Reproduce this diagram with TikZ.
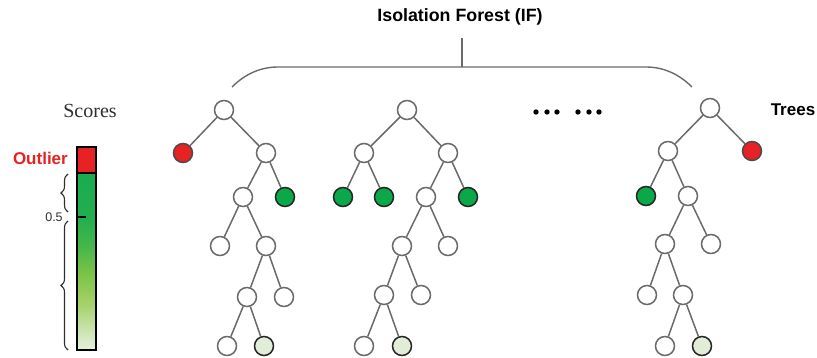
\documentclass[tikz,border=0pt]{standalone}
\usepackage{fontspec}
\setmainfont{Liberation Sans}
\newfontfamily\scorefont{Liberation Serif}
\usepackage{tikz}
\usetikzlibrary{positioning,decorations.pathreplacing}

\definecolor{outred}{HTML}{E62222}
\definecolor{ingreen}{HTML}{0BA84A}
\definecolor{leafgreen}{HTML}{E2EDD8}
\definecolor{edgegray}{HTML}{6A6A6A}
\definecolor{textgray}{HTML}{2E2E2E}
\definecolor{bar0}{HTML}{E6F0DC}
\definecolor{bar1}{HTML}{D4E8BE}
\definecolor{bar2}{HTML}{A8D26E}
\definecolor{bar3}{HTML}{7DC548}
\definecolor{bar4}{HTML}{45B64A}
\definecolor{bar5}{HTML}{22AE4E}
\definecolor{bar6}{HTML}{1AAC50}

\pgfdeclareverticalshading{scorebar}{100bp}{color(0bp)=(bar0); color(25bp)=(bar0);
  color(29bp)=(bar1); color(37.5bp)=(bar2); color(46bp)=(bar3); color(54.5bp)=(bar4);
  color(62.5bp)=(bar5); color(75bp)=(bar6); color(100bp)=(bar6)}

\tikzset{
  vert/.style={circle, draw=edgegray, line width=1.5pt, fill=white,
               minimum size=19pt, inner sep=0pt},
  outl/.style={vert, fill=outred, draw=black!70},
  inl/.style={vert, fill=ingreen, draw=black!85},
  deep/.style={vert, fill=leafgreen, draw=black!85},
  label/.style={font=\bfseries\fontsize{17}{20}\selectfont, inner sep=0pt}
}

\begin{document}
\begin{tikzpicture}[x=1pt,y=-1pt,on grid,
                    every edge/.style={draw=edgegray, line width=1.5pt}]
  \useasboundingbox (0,0) rectangle (817,358);

  % title and forest brace
  \node[label, font=\bfseries\fontsize{17.8}{20}\selectfont] (title) at (460,17) {Isolation Forest (IF)};
  \coordinate (top) at (462,38);
  \coordinate (mid) at (462,67);
  \draw[edgegray, line width=1.4pt] (232,87) .. controls (246,73) and (262,67) .. (278,67)
        -- (646,67) .. controls (662,67) and (678,73) .. (692,87);
  \draw[edgegray, line width=1.4pt] (top) -- (mid);

  % tree 1
  \node[vert] (p0) at (224,110) {};
  \node[outl] (p1) [below left=43pt and 41pt of p0] {};
  \node[vert] (p2) [below right=43pt and 42pt of p0] {};
  \node[vert] (p3) [below left=44pt and 23pt of p2] {};
  \node[inl]  (p4) [below right=44pt and 19pt of p2] {};
  \node[vert] (p5) [below left=49pt and 23pt of p3] {};
  \node[vert] (p6) [below right=49pt and 23pt of p3] {};
  \node[vert] (p7) [below left=51pt and 19pt of p6] {};
  \node[vert] (p8) [below right=51pt and 18pt of p6] {};
  \node[vert] (p9) [below left=49pt and 20pt of p7] {};
  \node[deep] (p10) [below right=49pt and 17pt of p7] {};

  \path (p0) edge (p1) edge (p2)
        (p2) edge (p3) edge (p4)
        (p3) edge (p5) edge (p6)
        (p6) edge (p7) edge (p8)
        (p7) edge (p9) edge (p10);

  % tree 2
  \node[vert] (q0) at (407,110) {};
  \node[vert] (q1) [below left=43pt and 43pt of q0] {};
  \node[vert] (q2) [below right=43pt and 41pt of q0] {};
  \node[inl]  (q3) [below left=44pt and 21pt of q1] {};
  \node[inl]  (q4) [below right=44pt and 20pt of q1] {};
  \node[vert] (q5) [below left=44pt and 22pt of q2] {};
  \node[inl]  (q6) [below right=44pt and 20pt of q2] {};
  \node[vert] (q7) [below left=49pt and 24pt of q5] {};
  \node[vert] (q8) [below right=49pt and 22pt of q5] {};
  \node[vert] (q9) [below left=49pt and 18pt of q7] {};
  \node[vert] (q10) [below right=49pt and 19pt of q7] {};
  \node[vert] (q11) [below left=51pt and 20pt of q9] {};
  \node[deep] (q12) [below right=51pt and 18pt of q9] {};

  \path (q0) edge (q1) edge (q2)
        (q1) edge (q3) edge (q4)
        (q2) edge (q5) edge (q6)
        (q5) edge (q7) edge (q8)
        (q7) edge (q9) edge (q10)
        (q9) edge (q11) edge (q12);

  % more trees
  \foreach \x in {536,547,557,578,589,599}
    \fill (\x,112) circle (2.7pt);

  % last tree
  \node[vert] (s0) at (710,108) {};
  \node[vert] (s1) [below left=43pt and 42pt of s0] {};
  \node[outl] (s2) [below right=43pt and 42pt of s0] {};
  \node[inl]  (s3) [below left=45pt and 22pt of s1] {};
  \node[vert] (s4) [below right=45pt and 20pt of s1] {};
  \node[vert] (s5) [below left=48pt and 23pt of s4] {};
  \node[vert] (s6) [below right=48pt and 23pt of s4] {};
  \node[vert] (s7) [below left=51pt and 18pt of s5] {};
  \node[vert] (s8) [below right=51pt and 18pt of s5] {};
  \node[vert] (s9) [below left=51pt and 18pt of s8] {};
  \node[deep] (s10) [below right=51pt and 19pt of s8] {};

  \path (s0) edge (s1) edge (s2)
        (s1) edge (s3) edge (s4)
        (s4) edge (s5) edge (s6)
        (s5) edge (s7) edge (s8)
        (s8) edge (s9) edge (s10);

  \node[label] (trees) at (793,110) {Trees};

  % score bar
  \node[textgray, font=\scorefont\fontsize{20}{22}\selectfont] (scores) at (90,111) {Scores};
  \node[label, outred, anchor=east] (outlier) at (68,158) {Outlier};
  \shade[shading=scorebar] (77,173) rectangle (96,350);
  \draw[line width=1.4pt, fill=outred] (77,147) rectangle (96,173);
  \draw[line width=1.4pt] (77,173) rectangle (96,350);
  \draw[line width=1.4pt] (77,217) -- (86,217);
  \node[textgray, font=\fontsize{12.5}{14}\selectfont] (half) at (54,217) {0.5};
  \draw[textgray, line width=1.1pt, decorate, decoration={brace, amplitude=7pt}]
        (68,212) -- (68,174);
  \draw[textgray, line width=1.1pt, decorate, decoration={brace, amplitude=7pt}]
        (68,350) -- (68,221);
\end{tikzpicture}
\end{document}
